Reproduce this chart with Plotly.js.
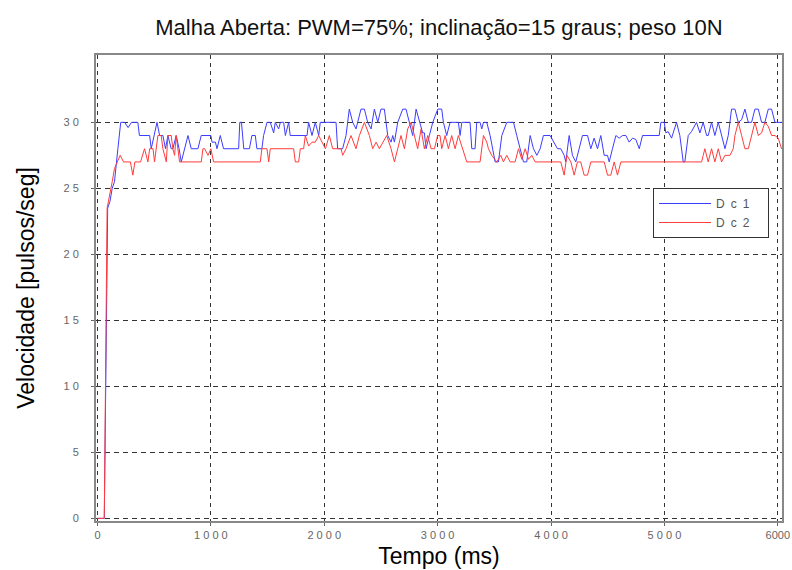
<!DOCTYPE html>
<html>
<head>
<meta charset="utf-8">
<script src="https://cdn.plot.ly/plotly-3.0.1.min.js"></script>
<style>html,body{margin:0;padding:0;background:#fff;}</style>
</head>
<body>
<div id="chart" style="width:792px;height:570px;"></div>
<script>
// ---- Data ----
const tDc1 = [0,60,90,110,130,150,180,205,240,270,300,356,370,460,474,500,525,548,577,600,621,650,665,694,720,739,768,798,827,857,886,915,945,1000,
  1010,1040,1054,1083,1112,1142,1245,1255,1270,1290,1340,1362,1392,1406,1450,1465,1495,1524,1554,1568,1598,1613,1642,1657,1686,1700,1730,1848,1862,1892,1921,1951,1965,2040,
  2104,2118,2162,2192,2221,2251,2280,2324,2354,2383,2413,2442,2472,2500,2530,2560,2589,2604,2619,2648,2692,2721,2751,2780,2810,2839,2868,2883,2898,2927,2957,3001,3036,
  3051,3080,3110,3183,3198,3213,3286,3301,3330,3345,3374,3389,3404,3433,3463,3507,3536,3566,3610,3669,3698,3728,3757,3786,3816,3845,3875,3904,3933,3992,
  4028,4057,4086,4116,4130,4160,4189,4218,4248,4277,4322,4351,4380,4410,4439,4469,4498,4513,4542,4572,4601,4631,4660,4689,4719,4748,4778,4807,4837,4954,4969,4998,
  5013,5033,5063,5107,5136,5166,5180,5210,5239,5283,5313,5342,5372,5386,5416,5445,5475,5504,5534,5563,5592,5622,5651,5681,5710,5740,5769,5798,5828,5857,5886,5916,5945,5975,6020,6040];
const vDc1 = [0,0,23.5,24,25,25.5,28,30,30,29.6,30,30,29,29,28,29,30,29,29,28,29,28,28,29,28,27,28,29,28,28,28,29,29,29,
  28.5,28.5,28,29,28,28,28,30,30,28,28,29,29,28,28,29,30,30,29.2,30,29.5,30,30,29,30,29,29,29,30,29,30,29,30,30,
  30,28,28,29,31,30,29.5,31,31,30,29.5,31,30,31,31,29,28.5,29,28.5,30,31,31,30,29,31,30,29.2,29.2,28,29,30,31,31,
  30,29,30,30,29,30,30,28,28,30,30,29.5,30,30,29,27,27,29,30,30,29,28,27,27,29,28,27.5,28,29,29,
  28.5,28,28,27.5,27,29,27.5,27,28,29,29,28,28.8,28,29,27.5,27.5,27,28,29,28.8,29,29,28.5,28.8,28.7,28,29,29,29,30,30,
  29.2,29.3,28.8,30,29,27,27,29,29.3,30,29.2,30,29,29,30,29,30,29,28,29,31,31,30,30.2,31,30,30,31,31,30,30,31,31,30,30,30];

const tDc2 = [0,60,85,110,130,150,175,200,230,260,290,312,330,380,415,445,460,490,503,533,562,577,607,621,650,665,680,694,710,724,915,930,945,975,1000,
  1010,1024,1436,1450,1495,1510,1524,1730,1745,1774,1789,1818,1833,1862,1892,1921,1951,1980,2010,
  2045,2074,2148,2163,2192,2236,2280,2310,2354,2398,2427,2457,2486,2516,2551,2589,2619,2648,2677,2707,2736,2766,2795,2824,2854,2883,2913,2942,2972,
  3000,3021,3036,3066,3095,3124,3154,3183,3219,3257,3374,3404,3433,3448,3477,3522,3557,3580,3610,3639,3683,3713,3742,3772,3801,3830,3860,
  4086,4116,4140,4175,4204,4233,4262,4292,4322,4351,4469,4498,4527,4557,4586,4616,5328,
  5342,5357,5386,5416,5445,5475,5504,5534,5578,5607,5622,5651,5681,5710,5740,5769,5798,5828,5857,5886,5916,5945,5975,6004,6033,6040];
const vDc2 = [0,0,23.5,24.5,25.5,26.5,27,27.5,27,27,27,26,27,27,28,27,28,28,27,29,29,28,27,29,29,28,27.5,29,28,27,27,28,28,27.5,28,
  27.5,27,27,28,28,27,28,28,27,27,28,28,29,28.2,28.5,28.5,29,28.5,28,
  29,28,28,27.5,28,29,28,29,30,29,28,28.5,28,28.5,29,28,27,28,29,28,29.5,30,29,28,29.5,28,29,28,28,
  29,29,28,29,28,29,28,29,28,27,27,29,28.5,28,27.5,27,27.5,27,27.5,27,27,28,27.2,28,27.2,27.5,27,
  27,26,27.5,27,26,27,27,26,26,27,27,26,26,27,26,27,27,
  27.5,28,27,28,27,28,27,27.5,27.5,28,29,30,29,28,28,29,30,29,29.2,30,29.7,29,29,28.8,28,28];

const seriesNames = ['D\u2002c\u20021\u00a0\u00a0\u00a0\u00a0', 'D\u2002c\u20022\u00a0\u00a0\u00a0\u00a0'];
const xTickVals = [0,1000,2000,3000,4000,5000,6000];
const xTickText = ['0','1 0 0 0','2 0 0 0','3 0 0 0','4 0 0 0','5 0 0 0','6000'];
const yTickVals = [0,5,10,15,20,25,30];
const yTickText = ['0','5','1 0','1 5','2 0','2 5','3 0'];
const xTitle = 'Tempo (ms)\u00a0\u00a0\u00a0';
const yTitle = '\u00a0\u00a0\u00a0\u00a0\u00a0Velocidade [pulsos/seg]';

const FONT = 'Arial, "Liberation Sans", sans-serif';

const traces = [
  {x: tDc1, y: vDc1, name: seriesNames[0], type: 'scatter', mode: 'lines',
   line: {color: '#3c3cff', width: 1}},
  {x: tDc2, y: vDc2, name: seriesNames[1], type: 'scatter', mode: 'lines',
   line: {color: '#ff3c3c', width: 1}}
];

const layout = {
  width: 792, height: 570,
  margin: {l: 96, r: 10, t: 55, b: 49},
  paper_bgcolor: '#fff', plot_bgcolor: '#fff',
  title: {text: 'Malha Aberta: PWM=75%; inclinação=15 graus; peso 10N',
          font: {family: FONT, size: 22, color: '#111'},
          x: 0.5, xref: 'paper', y: 1 - 27/570, yref: 'container', yanchor: 'middle'},
  showlegend: true,
  legend: {x: 0.812, y: 0.7146, xanchor: 'left', yanchor: 'top',
           bgcolor: '#fff', bordercolor: '#333', borderwidth: 1,
           font: {family: FONT, size: 12, color: '#555'},
           itemwidth: 52},
  xaxis: {range: [-13, 6037], tickvals: xTickVals, ticktext: xTickText,
          tickfont: {family: FONT, size: 11, color: '#666'}, ticklabeloverflow: 'allow',
          showgrid: true, gridcolor: '#333', gridwidth: 1, griddash: '4px,4px',
          zeroline: false, showline: true, mirror: true, linecolor: '#888', linewidth: 2,
          ticks: 'outside', ticklen: 3, tickcolor: '#666',
          title: {text: xTitle, standoff: 8,
                  font: {family: FONT, size: 23, color: '#000'}}},
  yaxis: {range: [-0.2, 35.1], tickvals: yTickVals, ticktext: yTickText,
          tickfont: {family: FONT, size: 11, color: '#666'},
          showgrid: true, gridcolor: '#333', gridwidth: 1, griddash: '5px,4px',
          zeroline: false, showline: true, mirror: true, linecolor: '#888', linewidth: 2,
          ticks: 'outside', ticklen: 3, tickcolor: '#666', ticklabelstandoff: 10,
          title: {text: yTitle, standoff: 22,
                  font: {family: FONT, size: 23, color: '#000'}}}
};

Plotly.newPlot('chart', traces, layout, {displayModeBar: false, staticPlot: true});
</script>
</body>
</html>
